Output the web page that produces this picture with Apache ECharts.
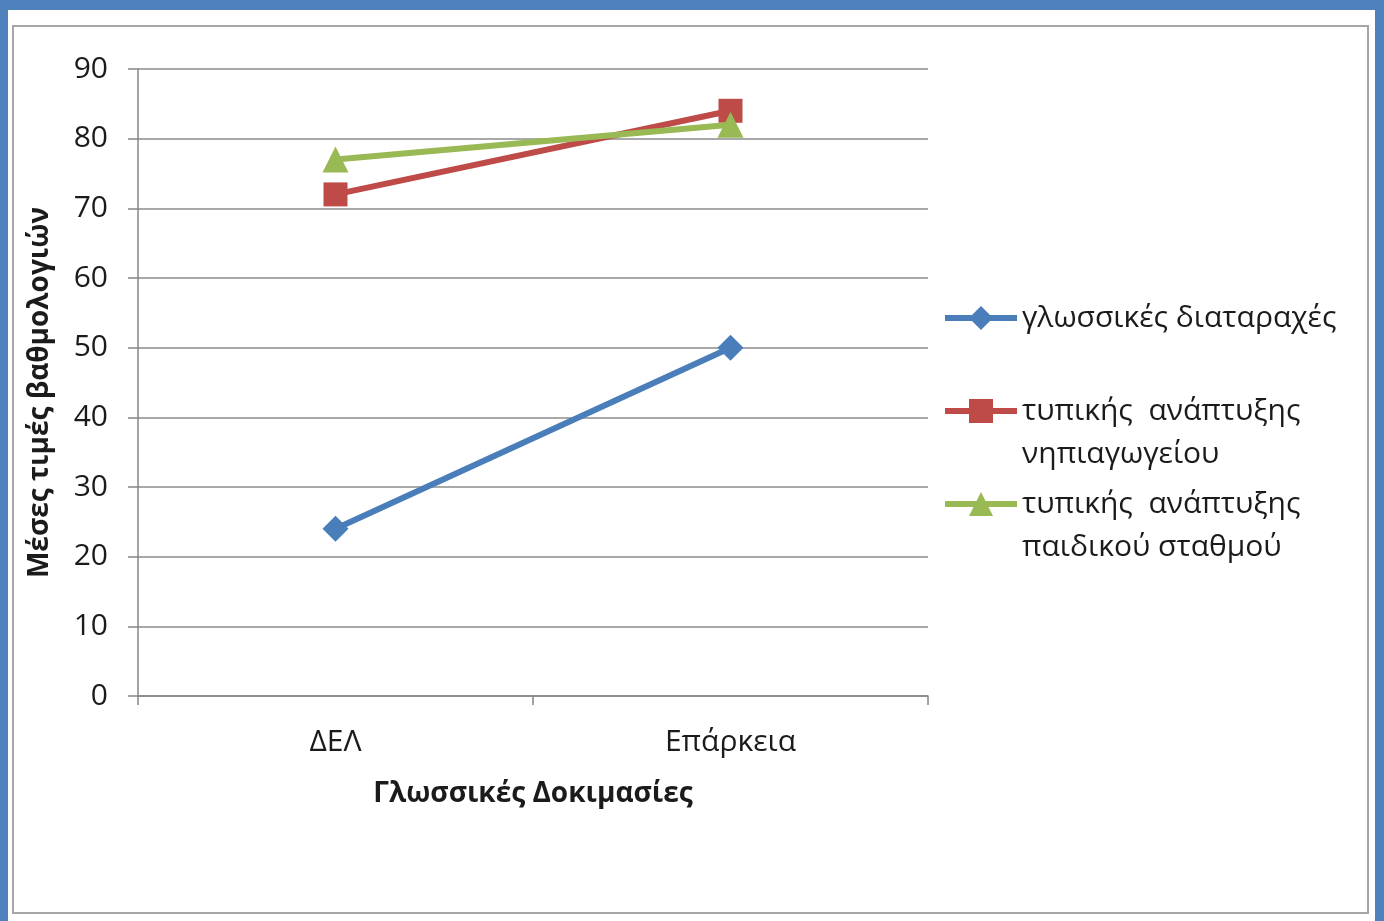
<!DOCTYPE html>
<html>
<head>
<meta charset="utf-8">
<script src="https://cdn.jsdelivr.net/npm/echarts@6/dist/echarts.min.js"></script>
<style>
html,body{margin:0;padding:0;background:#4F81BD;width:1384px;height:921px;overflow:hidden;}
#paper{position:absolute;left:8px;top:10px;width:1367px;height:911px;background:#fff;}
#chart{position:absolute;left:0;top:0;width:1384px;height:921px;}
</style>
</head>
<body>
<div id="paper"></div>
<div id="chart"></div>
<script>
const categories = ['ΔΕΛ', 'Επάρκεια'];
const seriesNames = ['γλωσσικές διαταραχές', 'τυπικής  ανάπτυξης νηπιαγωγείου', 'τυπικής  ανάπτυξης παιδικού σταθμού'];
const legendLine1 = ['γλωσσικές διαταραχές', 'τυπικής  ανάπτυξης', 'τυπικής  ανάπτυξης'];
const legendLine2 = ['', 'νηπιαγωγείου', 'παιδικού σταθμού'];
const glossikes = [24, 50];
const nipiagogeiou = [72, 84];
const paidikou = [77, 82];
const yTicks = {min: 0, max: 90, interval: 10};
const xTitle = 'Γλωσσικές Δοκιμασίες';
const yTitle = 'Μέσες τιμές βαθμολογιών';

const colors = ['#4A7EBB', '#BE4B48', '#98B954'];
const symbols = ['diamond', 'rect', 'triangle'];
const symbolSizes = [26, 24, 26];
const values = [glossikes, nipiagogeiou, paidikou];
const FONT = 'Open Sans';
const TXT = '#1b1b1b';
const legendTops = [317, 410, 503];

const chart = echarts.init(document.getElementById('chart'));
const option = {
  animation: false,
  textStyle: {fontFamily: FONT},
  grid: {left: 138, right: 456, top: 69, bottom: 225},
  xAxis: {
    type: 'category',
    data: categories,
    boundaryGap: true,
    axisLine: {lineStyle: {color: '#868686', width: 1.5}},
    axisTick: {show: true, length: 9, lineStyle: {color: '#868686', width: 1.5}},
    axisLabel: {margin: 31, fontSize: 30, color: TXT, fontFamily: FONT},
    name: xTitle,
    nameLocation: 'middle',
    nameGap: 84,
    nameTextStyle: {fontSize: 28, fontWeight: 'bold', color: TXT, fontFamily: FONT}
  },
  yAxis: {
    type: 'value',
    min: yTicks.min, max: yTicks.max, interval: yTicks.interval,
    axisLine: {show: true, lineStyle: {color: '#868686', width: 1.5}},
    axisTick: {show: true, length: 10, lineStyle: {color: '#868686', width: 1.5}},
    splitLine: {lineStyle: {color: '#8C8C8C', width: 1.5}},
    axisLabel: {margin: 30, fontSize: 30, color: TXT, fontFamily: FONT},
    name: yTitle,
    nameLocation: 'middle',
    nameGap: 84,
    nameTextStyle: {fontSize: 28, fontWeight: 'bold', color: TXT, fontFamily: FONT, padding: [0, 20, 0, 0]}
  },
  legend: seriesNames.map((n, i) => ({
    data: [n],
    left: 942,
    top: legendTops[i] - 14,
    padding: 0,
    itemWidth: 72,
    itemHeight: 30,
    selectedMode: false,
    formatter: () => legendLine1[i],
    lineStyle: {width: 6},
    textStyle: {fontSize: 30, color: TXT, fontFamily: FONT}
  })),
  series: seriesNames.map((n, i) => ({
    name: n,
    type: 'line',
    data: values[i],
    symbol: symbols[i],
    symbolSize: symbolSizes[i],
    lineStyle: {color: colors[i], width: 6},
    itemStyle: {color: colors[i]},
    z: 3 + (i === 2 ? 1 : 0)
  })),
  graphic: [
    {type: 'rect', shape: {x: 13, y: 26, width: 1355, height: 887}, style: {fill: 'none', stroke: '#A6A6A6', lineWidth: 2}, z: -1},
    ...legendLine2.map((t, i) => t ? {
      type: 'text', left: 1022, top: legendTops[i] + 29,
      style: {text: t, fontSize: 30, fill: TXT, fontFamily: FONT}
    } : null).filter(Boolean)
  ]
};
chart.setOption(option);
</script>
</body>
</html>
